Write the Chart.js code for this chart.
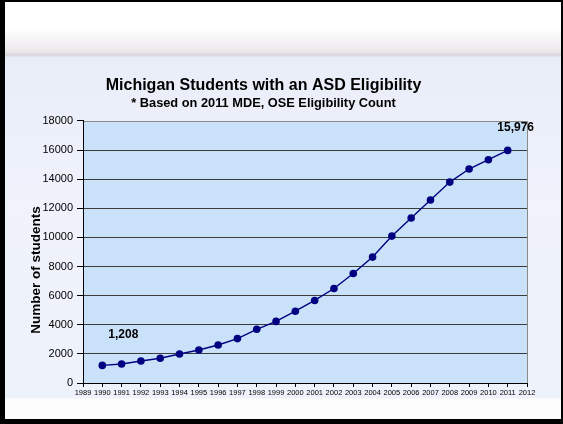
<!DOCTYPE html>
<html>
<head>
<meta charset="utf-8">
<script src="https://cdn.jsdelivr.net/npm/chart.js@4.4.1/dist/chart.umd.min.js"></script>
<style>
  html, body { margin: 0; padding: 0; background: #fff; }
  .slide {
    position: relative;
    width: 563px;
    height: 424px;
    box-sizing: border-box;
    border-style: solid;
    border-color: #000;
    border-width: 2px 2px 5px 5px;
    background:
      linear-gradient(to bottom, #ffffff 0px, #ffffff 26px, #ebe8ec 50px, #dcd8df 52px, #dcd8df 54px, #e9edf8 55px, #f0f3fc 200px, #eef2fb 396px, #fdfdfd 397px, #fdfdfd 100%);
  }
  canvas { position: absolute; left: -5px; top: -2px; }
</style>
</head>
<body>
<div class="slide">
  <canvas id="asdChart" width="563" height="424"></canvas>
</div>
<script>
  const years = [1990, 1991, 1992, 1993, 1994, 1995, 1996, 1997, 1998, 1999, 2000,
    2001, 2002, 2003, 2004, 2005, 2006, 2007, 2008, 2009, 2010, 2011];
  const students = [1208, 1310, 1510, 1700, 1990, 2270, 2610, 3050, 3690, 4230, 4930,
    5670, 6490, 7520, 8650, 10090, 11330, 12570, 13800, 14700, 15340, 15976];
  const yearRange = [1989, 2012];
  const countRange = [0, 18000];

  const chartTitle = "Michigan Students with an ASD Eligibility";
  const chartSubtitle = "* Based on 2011 MDE, OSE Eligibility Count";
  const axisTitle = "Number of students";

  const FONT = "'Liberation Sans', Arial, sans-serif";

  // light blue plot area with a grey frame on top/right
  const plotBackground = {
    id: "plotBackground",
    beforeDraw(chart) {
      const { ctx, chartArea: a } = chart;
      ctx.save();
      ctx.fillStyle = "#c9e1f9";
      ctx.fillRect(a.left, a.top, a.right - a.left, a.bottom - a.top);
      ctx.strokeStyle = "#8a8a8a";
      ctx.lineWidth = 1;
      ctx.beginPath();
      ctx.moveTo(a.left, Math.round(a.top) + 0.5);
      ctx.lineTo(Math.round(a.right) + 0.5, Math.round(a.top) + 0.5);
      ctx.lineTo(Math.round(a.right) + 0.5, a.bottom);
      ctx.stroke();
      ctx.restore();
    }
  };

  // y axis title and value labels on first and last points
  const extraText = {
    id: "extraText",
    afterDraw(chart) {
      const { ctx } = chart;
      const meta = chart.getDatasetMeta(0);
      const first = meta.data[0];
      const last = meta.data[meta.data.length - 1];
      ctx.save();
      ctx.fillStyle = "#000";
      ctx.font = "bold 12px " + FONT;
      ctx.textAlign = "center";
      ctx.textBaseline = "middle";
      ctx.fillText(students[0].toLocaleString("en-US"), first.x + 21, first.y - 31);
      ctx.fillText(students[students.length - 1].toLocaleString("en-US"), last.x + 8, last.y - 23);

      ctx.font = "bold 13.5px " + FONT;
      ctx.translate(36, 270);
      ctx.rotate(-Math.PI / 2);
      ctx.fillText(axisTitle, 0, 0);
      ctx.restore();
    }
  };

  new Chart(document.getElementById("asdChart"), {
    type: "line",
    data: {
      labels: years,
      datasets: [{
        data: years.map((y, i) => ({ x: y, y: students[i] })),
        borderColor: "#000080",
        backgroundColor: "#000080",
        borderWidth: 1.4,
        pointRadius: 3.8,
        pointBackgroundColor: "#000080",
        pointBorderWidth: 0,
        tension: 0
      }]
    },
    options: {
      responsive: false,
      animation: false,
      devicePixelRatio: 1,
      layout: { padding: { top: 70, left: 0, right: 36, bottom: 0 } },
      plugins: {
        legend: { display: false },
        tooltip: { enabled: false },
        title: {
          display: true,
          text: chartTitle,
          color: "#000",
          font: { family: FONT, size: 16, weight: "bold" },
          padding: { top: 6.4, bottom: 0 }
        },
        subtitle: {
          display: true,
          text: chartSubtitle,
          color: "#000",
          font: { family: FONT, size: 12.8, weight: "bold" },
          padding: { top: 0, bottom: 10 }
        }
      },
      scales: {
        x: {
          type: "linear",
          min: yearRange[0],
          max: yearRange[1],
          afterFit(scale) { scale.height = 41; },
          grid: { drawOnChartArea: false, drawTicks: true, tickLength: 4, tickColor: "#000" },
          border: { color: "#000", width: 1 },
          ticks: {
            stepSize: 1,
            autoSkip: false,
            maxRotation: 0,
            padding: 1,
            color: "#000",
            font: { family: FONT, size: 7.5 },
            callback: v => String(v)
          }
        },
        y: {
          min: countRange[0],
          max: countRange[1],
          afterFit(scale) { scale.width = 83; },
          grid: {
            color: ctx => ctx.tick && ctx.tick.value === countRange[1] ? "rgba(0,0,0,0)" : "#3c3c3c",
            lineWidth: 1,
            tickLength: 6,
            tickColor: "#000"
          },
          border: { color: "#000", width: 1 },
          ticks: {
            stepSize: 2000,
            padding: 4,
            color: "#000",
            font: { family: FONT, size: 11 },
            callback: v => String(v)
          }
        }
      }
    },
    plugins: [plotBackground, extraText]
  });
</script>
</body>
</html>
